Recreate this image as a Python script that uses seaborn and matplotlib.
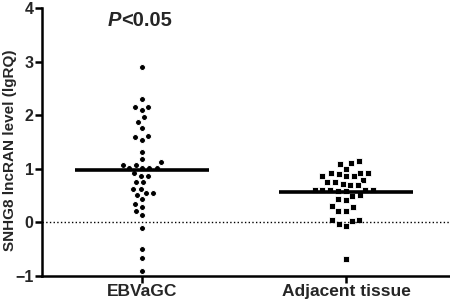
import numpy as np
import pandas as pd
import matplotlib
matplotlib.use("Agg")
import matplotlib.pyplot as plt
import seaborn as sns

# ==========================================
# Data
# ==========================================
groups = ["EBVaGC", "Adjacent tissue"]

ebv_values = [2.89, 2.31, 2.16, 2.15, 2.10, 1.96, 1.88, 1.77, 1.61, 1.60,
              1.54, 1.31, 1.18, 1.12, 1.08, 1.08, 1.02, 1.02, 1.01, 1.01,
              0.92, 0.87, 0.87, 0.76, 0.75, 0.63, 0.63, 0.55, 0.54, 0.52,
              0.43, 0.35, 0.29, 0.21, 0.14, -0.10, -0.50, -0.66, -0.90]

adj_values = [1.14, 1.10, 1.09, 1.00, 0.93, 0.93, 0.92, 0.91, 0.86, 0.86,
              0.86, 0.80, 0.76, 0.75, 0.72, 0.70, 0.69, 0.61, 0.61, 0.60,
              0.60, 0.60, 0.59, 0.58, 0.51, 0.50, 0.44, 0.41, 0.30, 0.28,
              0.22, 0.21, 0.05, 0.05, 0.02, -0.03, -0.07, -0.68]

markers = ["o", "s"]
p_label = "<0.05"
y_label = "SNHG8 lncRAN level (lgRQ)"

df = pd.DataFrame({
    "group": [groups[0]] * len(ebv_values) + [groups[1]] * len(adj_values),
    "value": ebv_values + adj_values,
})

# ==========================================
# Plot
# ==========================================
sns.set_style("ticks")
plt.rcParams["font.family"] = ["Liberation Sans", "DejaVu Sans"]

fig = plt.figure(figsize=(4.5, 3.04), dpi=100)
ax = fig.add_axes([42 / 450, 28 / 304, 408 / 450, 268 / 304])

for grp, mk, sz, ew in zip(groups, markers, [4.3, 4.7], [0.7, 0.6]):
    sns.swarmplot(data=df[df["group"] == grp], x="group", y="value", order=groups,
                  marker=mk, color="black", size=sz, linewidth=ew,
                  edgecolor="white", ax=ax, zorder=3)

# mean bars
means = df.groupby("group")["value"].mean()
for i, grp in enumerate(groups):
    ax.hlines(means[grp], i - 0.33, i + 0.33, color="black", lw=2.6, zorder=5)

ax.axhline(0, color="black", ls=":", lw=1.0, zorder=4)

ax.set_xlim(-0.49, 1.51)
ax.set_ylim(-1, 4)
ax.set_yticks(range(-1, 5))

sns.despine(ax=ax)
for side in ["left", "bottom"]:
    ax.spines[side].set_linewidth(1.8)
    ax.spines[side].set_color("black")

ax.tick_params(axis="both", direction="out", length=5, width=1.8,
               color="black", pad=1)
ax.tick_params(axis="y", labelsize=11.5)
ax.tick_params(axis="x", labelsize=12.5)
for lbl in ax.get_xticklabels() + ax.get_yticklabels():
    lbl.set_fontweight("bold")

ax.set_xlabel("")
ax.set_ylabel(y_label, fontsize=11, fontweight="bold")
ax.yaxis.set_label_coords(-0.061, 0.47)

p_txt = ax.text(-0.17, 3.76, "P", fontsize=14.5, fontweight="bold",
                fontstyle="italic", ha="left", va="center")
ax.annotate(p_label, xy=(1, 0), xycoords=p_txt, fontsize=14.5,
            fontweight="bold", ha="left", va="bottom")

fig.savefig("out.png", dpi=100)
plt.close(fig)
